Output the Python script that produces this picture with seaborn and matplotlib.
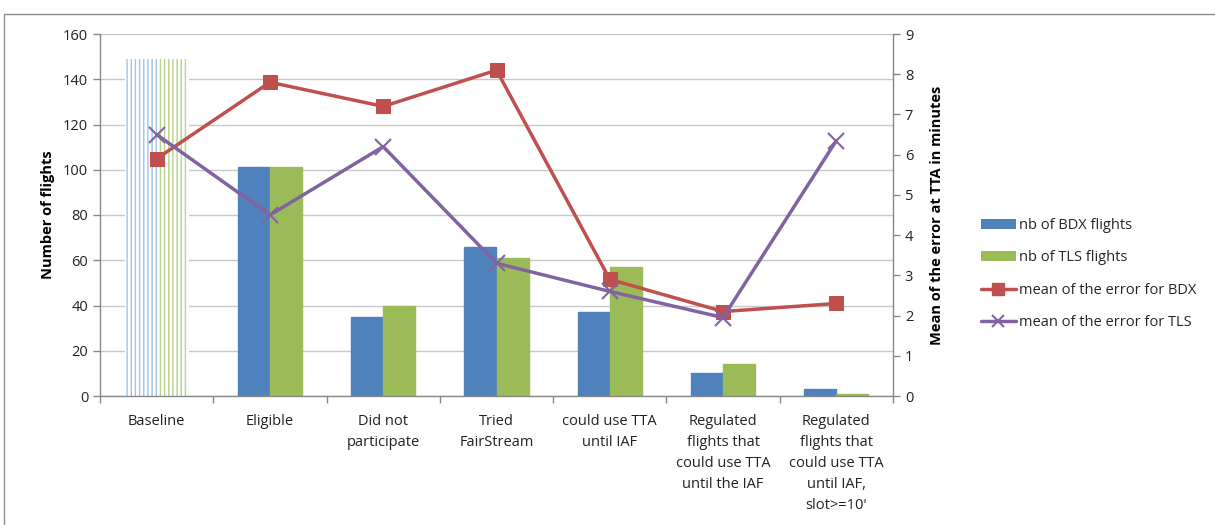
import numpy as np
import pandas as pd
import seaborn as sns
import matplotlib.pyplot as plt
from matplotlib.patches import Patch, Rectangle
from matplotlib.lines import Line2D

categories = [
    "Baseline",
    "Eligible",
    "Did not\nparticipate",
    "Tried\nFairStream",
    "could use TTA\nuntil IAF",
    "Regulated\nflights that\ncould use TTA\nuntil the IAF",
    "Regulated\nflights that\ncould use TTA\nuntil IAF,\nslot>=10'",
]
bdx_flights = [149, 101, 35, 66, 37, 10, 3]
tls_flights = [149, 101, 40, 61, 57, 14, 1]
bdx_error = [5.9, 7.8, 7.2, 8.1, 2.9, 2.1, 2.3]
tls_error = [6.5, 4.5, 6.2, 3.3, 2.6, 1.95, 6.35]

series_names = ["nb of BDX flights", "nb of TLS flights",
                "mean of the error for BDX", "mean of the error for TLS"]
blue, green, red, purple = "#4F81BD", "#9BBB59", "#C0504D", "#8064A2"

sns.set_theme(style="white")
plt.rcParams["font.family"] = ["Open Sans", "DejaVu Sans"]
plt.rcParams["hatch.linewidth"] = 1.0

df = pd.DataFrame({
    "category": categories * 2,
    "flights": bdx_flights + tls_flights,
    "series": [series_names[0]] * len(categories) + [series_names[1]] * len(categories),
})

fig = plt.figure(figsize=(12.15, 5.25), dpi=100)
ax = fig.add_axes([100 / 1215, 1 - 396 / 525, 793 / 1215, 362 / 525])

sns.barplot(data=df, x="category", y="flights", hue="series",
            palette=[blue, green], width=0.565, gap=0, saturation=1,
            edgecolor="none", linewidth=0, legend=False, ax=ax)

# Solid bars get an edge in their own colour so neighbours touch without a seam
for cont, col in zip(ax.containers, [blue, green]):
    for bar in cont:
        bar.set_edgecolor(col)
        bar.set_linewidth(1.0)

# Baseline columns are drawn as striped outlines rather than solid fills
for cont, col in zip(ax.containers, ["#9DC3E6", "#B5D48A"]):
    bar = cont[0]
    bar.set_facecolor("white")
    bar.set_edgecolor(col)
    bar.set_hatch("||||")
    bar.set_linewidth(0)

ax.set_xlim(-0.5, len(categories) - 0.5)
ax.set_ylim(0, 160)
ax.set_yticks(np.arange(0, 161, 20))
ax.yaxis.grid(True, color="#C8C8C8", linewidth=1.0)
ax.set_axisbelow(True)
ax.set_xlabel("")
ax.set_ylabel("Number of flights", fontsize=10.5, fontweight="bold", color="black", labelpad=6)

ax.set_xticks(range(len(categories)))
ax.set_xticklabels(categories, fontsize=10.5, color="#222222", linespacing=1.55, va="top")
ax.set_xticks(np.arange(-0.5, len(categories), 1.0), minor=True)
ax.tick_params(axis="x", which="major", length=0, pad=13)
ax.tick_params(axis="x", which="minor", length=5, width=1, color="#888888", bottom=True)
ax.tick_params(axis="y", length=5, width=1, color="#888888", left=True, labelsize=10.5,
               labelcolor="#222222")
for side in ["top", "right"]:
    ax.spines[side].set_visible(False)
for side in ["left", "bottom"]:
    ax.spines[side].set_color("#888888")
    ax.spines[side].set_linewidth(1.0)

ax2 = ax.twinx()
xpos = np.arange(len(categories))
sns.lineplot(x=xpos, y=bdx_error, color=red, linewidth=2.5, marker="s", markersize=10,
             markeredgecolor=red, ax=ax2, legend=False)
sns.lineplot(x=xpos, y=tls_error, color=purple, linewidth=2.5, marker="x", markersize=11,
             markeredgewidth=1.5, markeredgecolor=purple, ax=ax2, legend=False)
ax2.set_ylim(0, 9)
ax2.set_yticks(range(0, 10))
ax2.tick_params(axis="y", length=5, width=1, color="#888888", right=True, labelsize=10.5,
                labelcolor="#222222")
ax2.set_ylabel("Mean of the error at TTA in minutes", fontsize=10.5, fontweight="bold",
               color="black", labelpad=12)
ax2.grid(False)
for side in ["top", "left", "bottom"]:
    ax2.spines[side].set_visible(False)
ax2.spines["right"].set_color("#888888")
ax2.spines["right"].set_linewidth(1.0)

handles = [
    Patch(facecolor=blue, edgecolor="none"),
    Patch(facecolor=green, edgecolor="none"),
    Line2D([], [], color=red, linewidth=2.5, marker="s", markersize=9),
    Line2D([], [], color=purple, linewidth=2.5, marker="x", markersize=9, markeredgewidth=1.5),
]
fig.legend(handles, series_names, loc="upper left", bbox_to_anchor=(975 / 1215, 1 - 212 / 525),
           frameon=False, fontsize=10.5, labelspacing=1.2, handlelength=2.4,
           handletextpad=0.2, borderaxespad=0)

# Chart-area frame
fig.patches.append(Rectangle((4 / 1215, -0.01), 1.2, 1 - 14 / 525 + 0.01,
                             transform=fig.transFigure, fill=False,
                             edgecolor="#8C8C8C", linewidth=1.0))

fig.savefig("out.png", dpi=100)
